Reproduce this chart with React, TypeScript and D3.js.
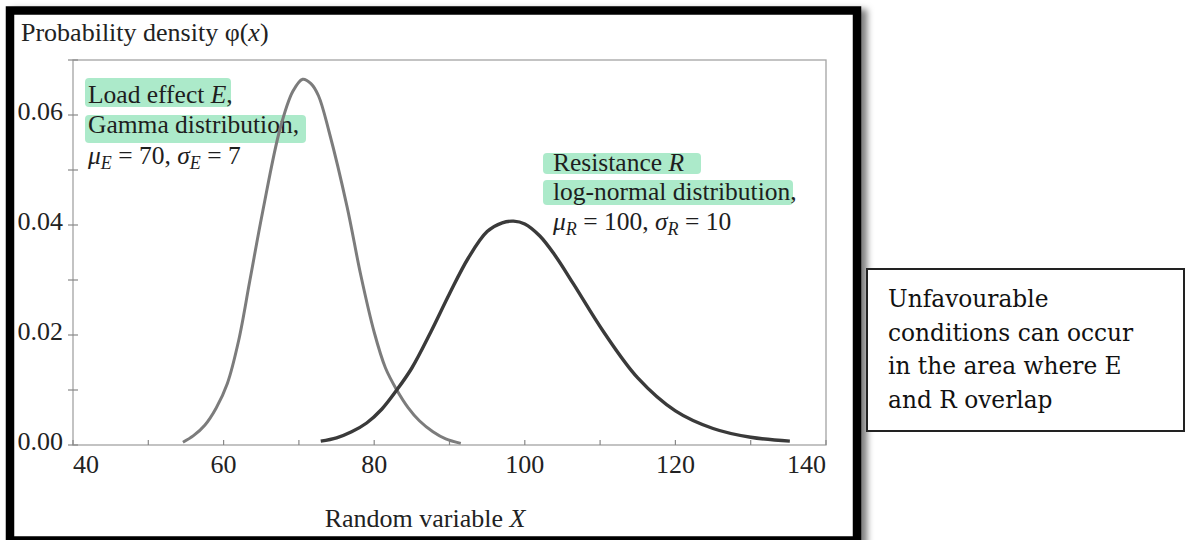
import React, { useEffect, useRef } from 'react';
import * as d3 from 'd3';

// axis ticks
const xTicks = [40, 50, 60, 70, 80, 90, 100, 110, 120, 130, 140];
const xTickLabels = [40, 60, 80, 100, 120, 140];
const yTicks = [0, 0.01, 0.02, 0.03, 0.04, 0.05, 0.06, 0.07];
const yTickLabels = [0, 0.02, 0.04, 0.06];

// load effect E (gamma)
const loadX = [54.6, 56, 57.5, 59, 60.5, 62, 63.5, 65.2, 67.5, 69.2, 70.5, 71.6, 72.6, 74, 76.4, 78.2, 80, 81.5, 83, 84.5, 86, 87.8, 89.5, 91.5];
const loadY = [0.0005, 0.0017, 0.0036, 0.0067, 0.0112, 0.0190, 0.0300, 0.0425, 0.0575, 0.0643, 0.0665, 0.0657, 0.0635, 0.0570, 0.0433, 0.0310, 0.0205, 0.0140, 0.0100, 0.0068, 0.0044, 0.0024, 0.0011, 0.0003];

// resistance R (log-normal)
const resX = [72.9, 75, 77, 79, 81, 83, 85, 87.5, 90, 92.5, 95, 97, 98.5, 100, 102, 104, 106.5, 110.5, 115, 120, 125, 130, 135.2];
const resY = [0.0007, 0.0013, 0.0024, 0.0040, 0.0065, 0.0100, 0.0140, 0.0205, 0.0275, 0.0340, 0.0388, 0.0404, 0.0407, 0.0402, 0.0380, 0.0345, 0.0292, 0.0205, 0.0122, 0.0062, 0.0030, 0.0014, 0.0007];

type Seg = { t: string; i?: boolean; sub?: boolean };

const loadText: Seg[][] = [
  [{ t: 'Load effect ' }, { t: 'E', i: true }, { t: ',' }],
  [{ t: 'Gamma distribution,' }],
  [{ t: 'μ', i: true }, { t: 'E', i: true, sub: true }, { t: ' = 70, ' }, { t: 'σ', i: true }, { t: 'E', i: true, sub: true }, { t: ' = 7' }],
];
const resText: Seg[][] = [
  [{ t: 'Resistance ' }, { t: 'R', i: true }],
  [{ t: 'log-normal distribution,' }],
  [{ t: 'μ', i: true }, { t: 'R', i: true, sub: true }, { t: ' = 100, ' }, { t: 'σ', i: true }, { t: 'R', i: true, sub: true }, { t: ' = 10' }],
];
const noteLines = ['Unfavourable', 'conditions can occur', 'in the area where E', 'and R overlap'];

const serif = '"Liberation Serif", "Times New Roman", serif';

const drawChart = (node: SVGSVGElement) => {
  const svg = d3.select(node);
  svg.selectAll('*').remove();

  const plot = { left: 73, right: 826, top: 60, bottom: 445 };

  const x = d3.scaleLinear().domain([40, 140]).range([plot.left, plot.right]);
  const y = d3.scaleLinear().domain([0, 0.07]).range([plot.bottom, plot.top]);

  const defs = svg.append('defs');
  const f = defs.append('filter').attr('id', 'shadow').attr('x', '-5%').attr('y', '-5%').attr('width', '115%').attr('height', '115%');
  f.append('feDropShadow').attr('dx', 6).attr('dy', 3).attr('stdDeviation', 3).attr('flood-color', '#000').attr('flood-opacity', 0.5);

  svg.append('rect').attr('width', 1185).attr('height', 540).attr('fill', '#fff');

  // black frame round the scanned figure
  svg.append('rect')
    .attr('x', 10).attr('y', 10.5).attr('width', 847).attr('height', 530)
    .attr('fill', '#fff').attr('stroke', '#000').attr('stroke-width', 8.5)
    .attr('filter', 'url(#shadow)');

  // plot box
  svg.append('rect')
    .attr('x', plot.left).attr('y', plot.top)
    .attr('width', plot.right - plot.left).attr('height', plot.bottom - plot.top)
    .attr('fill', 'none').attr('stroke', '#a4a4a4').attr('stroke-width', 1.3);

  svg.append('g').selectAll('line').data(yTicks).enter().append('line')
    .attr('x1', plot.left - 5).attr('x2', plot.left + 5)
    .attr('y1', d => y(d)).attr('y2', d => y(d))
    .attr('stroke', '#888').attr('stroke-width', 1.2);

  svg.append('g').selectAll('line').data(xTicks).enter().append('line')
    .attr('x1', d => x(d)).attr('x2', d => x(d))
    .attr('y1', plot.bottom).attr('y2', plot.bottom - 5)
    .attr('stroke', '#888').attr('stroke-width', 1.2);

  svg.append('g').selectAll('text').data(yTickLabels).enter().append('text')
    .attr('x', plot.left - 10).attr('y', d => y(d) + 5)
    .attr('text-anchor', 'end').attr('font-family', serif).attr('font-size', 26).attr('fill', '#222')
    .text(d => d3.format('.2f')(d));

  svg.append('g').selectAll('text').data(xTickLabels).enter().append('text')
    .attr('x', d => x(d)).attr('y', plot.bottom + 28)
    .attr('text-anchor', (d, i) => (i === 0 ? 'start' : i === xTickLabels.length - 1 ? 'end' : 'middle'))
    .attr('font-family', serif).attr('font-size', 26).attr('fill', '#222')
    .text(d => d);

  svg.append('text')
    .attr('x', 21).attr('y', 41).attr('font-family', serif).attr('font-size', 26).attr('fill', '#222')
    .call(t => {
      t.append('tspan').text('Probability density φ(');
      t.append('tspan').attr('font-style', 'italic').text('x');
      t.append('tspan').text(')');
    });

  svg.append('text')
    .attr('x', 425).attr('y', 527).attr('text-anchor', 'middle')
    .attr('font-family', serif).attr('font-size', 26).attr('fill', '#222')
    .call(t => {
      t.append('tspan').text('Random variable ');
      t.append('tspan').attr('font-style', 'italic').text('X');
    });

  // highlighter marks
  const green = '#a3e8c4';
  const marks = [
    [85, 78, 146, 29], [85, 115, 221, 28],
    [543, 153, 158, 21], [543, 180, 250, 25],
  ];
  svg.append('g').selectAll('rect').data(marks).enter().append('rect')
    .attr('x', d => d[0]).attr('y', d => d[1]).attr('width', d => d[2]).attr('height', d => d[3])
    .attr('rx', 4).attr('fill', green).attr('opacity', 0.9);

  const writeLines = (lines: Seg[][], x0: number, baselines: number[]) => {
    lines.forEach((segs, li) => {
      const t = svg.append('text')
        .attr('x', x0).attr('y', baselines[li])
        .attr('font-family', serif).attr('font-size', 25.5).attr('fill', '#1e1e1e');
      let down = false;
      segs.forEach(s => {
        const sp = t.append('tspan').text(s.t);
        if (s.i) sp.attr('font-style', 'italic');
        if (s.sub) { sp.attr('font-size', 18).attr('dy', 5); down = true; }
        else if (down) { sp.attr('dy', -5); down = false; }
      });
    });
  };
  writeLines(loadText, 88, [103, 133, 164]);
  writeLines(resText, 553, [171, 200, 230]);

  const curve = d3.line<[number, number]>()
    .x(d => x(d[0]))
    .y(d => y(d[1]))
    .curve(d3.curveCatmullRom.alpha(0.5));

  const loadPts = loadX.map((v, i) => [v, loadY[i]] as [number, number]);
  const resPts = resX.map((v, i) => [v, resY[i]] as [number, number]);

  svg.append('path').attr('d', curve(loadPts))
    .attr('fill', 'none').attr('stroke', '#7c7c7c').attr('stroke-width', 3);
  svg.append('path').attr('d', curve(resPts))
    .attr('fill', 'none').attr('stroke', '#3a3a3a').attr('stroke-width', 3.4);

  // side note box
  svg.append('rect')
    .attr('x', 867).attr('y', 269).attr('width', 317).attr('height', 162)
    .attr('fill', '#fff').attr('stroke', '#222').attr('stroke-width', 2);

  svg.append('g').selectAll('text').data(noteLines).enter().append('text')
    .attr('x', 888).attr('y', (d, i) => 307 + i * 33.6)
    .attr('font-family', '"DejaVu Serif", serif').attr('font-size', 23.3).attr('fill', '#111')
    .text(d => d);
};

const App = () => {
  const ref = useRef<SVGSVGElement>(null);

  useEffect(() => {
    if (ref.current) drawChart(ref.current);
  }, []);

  return (
    <svg
      ref={ref}
      width={1185}
      height={540}
      style={{ position: 'absolute', left: 0, top: 0, display: 'block' }}
    />
  );
};

export default App;
